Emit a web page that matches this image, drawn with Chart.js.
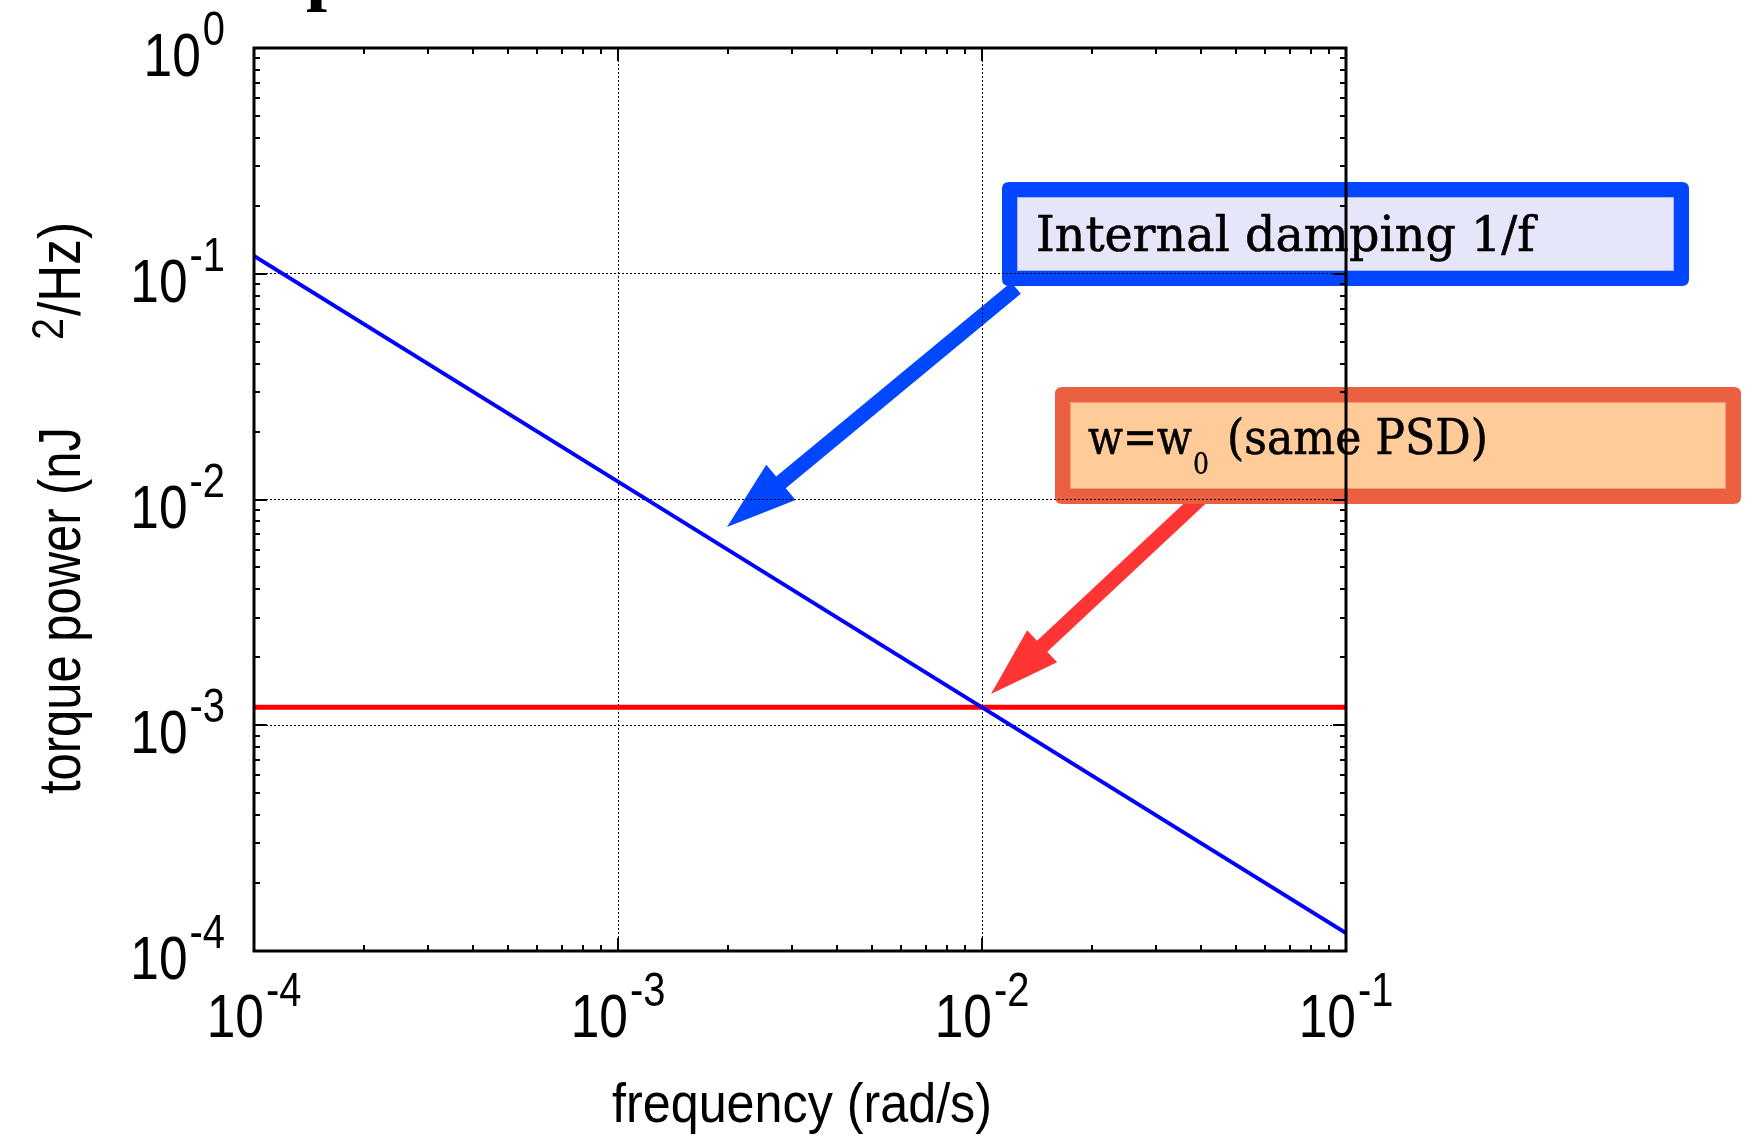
<!DOCTYPE html>
<html><head><meta charset="utf-8">
<script src="https://cdn.jsdelivr.net/npm/chart.js@4.4.1/dist/chart.umd.min.js"></script>
<style>html,body{margin:0;padding:0;background:#fff;}canvas{display:block;}</style>
</head><body>
<canvas id="c" width="1748" height="1136"></canvas>
<script>
// ---- data ----
const frequency = [1e-4, 1e-3, 1e-2, 1e-1];
const internalDampingPSD = [0.12, 0.012, 0.0012, 0.00012];
const sameW0Frequency = [1e-4, 1e-1];
const sameW0PSD = [0.0012, 0.0012];
const xTickValues = [1e-4, 1e-3, 1e-2, 1e-1];
const xTickExponents = ['-4', '-3', '-2', '-1'];
const yTickValues = [1e-4, 1e-3, 1e-2, 1e-1, 1];
const yTickExponents = ['-4', '-3', '-2', '-1', '0'];
const tickMultipliers = [1, 2, 3, 4, 5, 6, 7, 8, 9];
const xAxisTitle = 'frequency (rad/s)';
const yAxisTitleMain = 'torque power (nJ';
const yAxisTitleSup = '2';
const yAxisTitleEnd = '/Hz)';
const blueNote = 'Internal damping 1/f';
const redNoteA = 'w=w';
const redNoteSub = '0';
const redNoteB = '(same PSD)';
const titleFragment = 'p';

// ---- helpers ----
const SANS = '"Liberation Sans", Arial, sans-serif';
const SERIF = '"DejaVu Serif", serif';
function isDecade(v) { const l = Math.log10(v); return Math.abs(l - Math.round(l)) < 1e-9; }
function decadeTicks(minExp, maxExp) {
  const out = [];
  for (let e = minExp; e < maxExp; e++) for (const m of tickMultipliers) out.push({ value: m * Math.pow(10, e) });
  out.push({ value: Math.pow(10, maxExp) });
  return out;
}
function txt(ctx, s, x, y, font, opt = {}) {
  ctx.save();
  ctx.font = font;
  const w = ctx.measureText(s).width;
  let sx = opt.sx || 1;
  if (opt.width) sx = opt.width / w;
  ctx.translate(x, y);
  if (opt.rot) ctx.rotate(opt.rot);
  ctx.scale(sx, 1);
  let dx = 0;
  if (opt.align === 'center') dx = -w / 2; else if (opt.align === 'right') dx = -w;
  ctx.fillStyle = opt.color || '#000';
  ctx.textAlign = 'left'; ctx.textBaseline = 'alphabetic';
  ctx.fillText(s, dx, 0);
  if (opt.bold) { ctx.strokeStyle = opt.color || '#000'; ctx.lineWidth = opt.bold; ctx.strokeText(s, dx, 0); }
  ctx.restore();
  return w * sx;
}
function measure(ctx, s, font, sx) { ctx.save(); ctx.font = font; const w = ctx.measureText(s).width; ctx.restore(); return w * sx; }
function drawArrow(ctx, tail, tip, headLen, headHalf, shaftW, color) {
  const dx = tip[0] - tail[0], dy = tip[1] - tail[1];
  const len = Math.hypot(dx, dy), ux = dx / len, uy = dy / len, nx = -uy, ny = ux;
  const bx = tip[0] - ux * headLen, by = tip[1] - uy * headLen;
  ctx.fillStyle = color;
  ctx.beginPath();
  ctx.moveTo(tail[0] + nx * shaftW / 2, tail[1] + ny * shaftW / 2);
  ctx.lineTo(bx + nx * shaftW / 2, by + ny * shaftW / 2);
  ctx.lineTo(bx + nx * headHalf, by + ny * headHalf);
  ctx.lineTo(tip[0], tip[1]);
  ctx.lineTo(bx - nx * headHalf, by - ny * headHalf);
  ctx.lineTo(bx - nx * shaftW / 2, by - ny * shaftW / 2);
  ctx.lineTo(tail[0] - nx * shaftW / 2, tail[1] - ny * shaftW / 2);
  ctx.closePath();
  ctx.fill();
}
function roundRect(ctx, x, y, w, h, r) {
  ctx.beginPath();
  ctx.moveTo(x + r, y); ctx.lineTo(x + w - r, y); ctx.quadraticCurveTo(x + w, y, x + w, y + r);
  ctx.lineTo(x + w, y + h - r); ctx.quadraticCurveTo(x + w, y + h, x + w - r, y + h);
  ctx.lineTo(x + r, y + h); ctx.quadraticCurveTo(x, y + h, x, y + h - r);
  ctx.lineTo(x, y + r); ctx.quadraticCurveTo(x, y, x + r, y);
  ctx.closePath();
}
function drawBox(ctx, b) {
  ctx.fillStyle = b.border; roundRect(ctx, b.x, b.y, b.w, b.h, 7); ctx.fill();
  ctx.fillStyle = b.fill; ctx.fillRect(b.x + b.bw, b.y + b.bw, b.w - 2 * b.bw, b.h - 2 * b.bw);
  ctx.strokeStyle = b.edge; ctx.lineWidth = 1;
  ctx.strokeRect(b.x + b.bw + 0.5, b.y + b.bw + 0.5, b.w - 2 * b.bw - 1, b.h - 2 * b.bw - 1);
}

// ---- layout (annotation geometry, pixels) ----
const BLUE = '#0047FF', RED_ARROW = '#FF3535', ORANGE = '#EA6040';
const blueBox = { x: 1002, y: 182, w: 687, h: 104, bw: 15, border: BLUE, fill: '#E6E6FA', edge: '#A8B4FF' };
const redBox = { x: 1055, y: 387, w: 686, h: 117, bw: 15, border: ORANGE, fill: '#FFCC99', edge: '#F49A70' };

const decor = {
  id: 'decor',
  beforeDraw(chart) {
    const ctx = chart.ctx;
    ctx.save();
    ctx.fillStyle = '#fff'; ctx.fillRect(0, 0, chart.width, chart.height);
    txt(ctx, titleFragment, 306, -4, 'bold 76px "Liberation Serif", serif');
    drawArrow(ctx, [1016, 288], [727, 527], 70, 23, 15, BLUE);
    drawArrow(ctx, [1205, 494], [991, 694], 70, 22, 15, RED_ARROW);
    drawBox(ctx, blueBox);
    drawBox(ctx, redBox);
    const f = '49px ' + SERIF;
    txt(ctx, blueNote, 1036, 251, f, { width: 499, bold: 0.6 });
    txt(ctx, redNoteA, 1088, 454, f, { width: 104, bold: 0.6 });
    txt(ctx, redNoteSub, 1193, 474, '30px ' + SERIF, { width: 16, bold: 0.4 });
    txt(ctx, redNoteB, 1227, 454, f, { width: 261, bold: 0.6 });
    ctx.restore();
  },
  afterDraw(chart) {
    const ctx = chart.ctx, a = chart.chartArea, xs = chart.scales.x, ys = chart.scales.y;
    ctx.save();
    ctx.strokeStyle = '#000'; ctx.lineCap = 'butt';
    // tick marks (inward, all four sides)
    ctx.lineWidth = 2;
    ctx.beginPath();
    xs.ticks.forEach(t => {
      const px = Math.round(xs.getPixelForValue(t.value));
      if (px <= a.left + 1 || px >= a.right - 1) return;
      const L = isDecade(t.value) ? 13 : 6;
      ctx.moveTo(px, a.bottom); ctx.lineTo(px, a.bottom - L);
      ctx.moveTo(px, a.top); ctx.lineTo(px, a.top + L);
    });
    ys.ticks.forEach(t => {
      const py = Math.round(ys.getPixelForValue(t.value));
      if (py <= a.top + 1 || py >= a.bottom - 1) return;
      const L = isDecade(t.value) ? 13 : 6;
      ctx.moveTo(a.left, py); ctx.lineTo(a.left + L, py);
      ctx.moveTo(a.right, py); ctx.lineTo(a.right - L, py);
    });
    ctx.stroke();
    // frame
    ctx.lineWidth = 3;
    ctx.strokeRect(a.left, a.top, a.right - a.left, a.bottom - a.top);

    // tick labels
    const mainF = '62px ' + SANS, supF = '48px ' + SANS, SX = 0.83, GAP = 2;
    xTickValues.forEach((v, i) => {
      const px = xs.getPixelForValue(v);
      const w1 = measure(ctx, '10', mainF, SX), w2 = measure(ctx, xTickExponents[i], supF, SX);
      const x0 = px - (w1 + GAP + w2) / 2;
      const base = a.bottom + 86;
      txt(ctx, '10', x0, base, mainF, { sx: SX });
      txt(ctx, xTickExponents[i], x0 + w1 + GAP, base - 31, supF, { sx: SX });
    });
    yTickValues.forEach((v, i) => {
      const py = ys.getPixelForValue(v);
      const w1 = measure(ctx, '10', mainF, SX), w2 = measure(ctx, yTickExponents[i], supF, SX);
      const xr = a.left - 29;
      const x0 = xr - (w1 + GAP + w2);
      txt(ctx, '10', x0, py + 28, mainF, { sx: SX });
      txt(ctx, yTickExponents[i], x0 + w1 + GAP, py - 3, supF, { sx: SX });
    });

    // axis titles
    txt(ctx, xAxisTitle, (a.left + a.right) / 2 + 2, 1122, '55px ' + SANS, { align: 'center', width: 380 });
    const R = -Math.PI / 2;
    txt(ctx, yAxisTitleMain, 80, 794, '59px ' + SANS, { rot: R, width: 367 });
    txt(ctx, yAxisTitleSup, 63, 340, '44px ' + SANS, { rot: R, width: 22 });
    txt(ctx, yAxisTitleEnd, 80, 316, '59px ' + SANS, { rot: R, width: 94 });
    ctx.restore();
  }
};

const gridColorX = c => (c.tick && isDecade(c.tick.value) && c.tick.value > xTickValues[0] && c.tick.value < xTickValues[xTickValues.length - 1]) ? '#000' : 'rgba(0,0,0,0)';
const gridColorY = c => (c.tick && isDecade(c.tick.value) && c.tick.value > yTickValues[0] && c.tick.value < yTickValues[yTickValues.length - 1]) ? '#000' : 'rgba(0,0,0,0)';

new Chart(document.getElementById('c'), {
  type: 'line',
  data: {
    datasets: [
      {
        label: 'Internal damping 1/f',
        data: frequency.map((f, i) => ({ x: f, y: internalDampingPSD[i] })),
        borderColor: '#0000FF', borderWidth: 4, pointRadius: 0, tension: 0, fill: false
      },
      {
        label: 'w=w0 (same PSD)',
        data: sameW0Frequency.map((f, i) => ({ x: f, y: sameW0PSD[i] })),
        borderColor: '#FF0000', borderWidth: 5, pointRadius: 0, tension: 0, fill: false
      }
    ]
  },
  options: {
    responsive: false,
    devicePixelRatio: 1,
    animation: false,
    layout: { padding: { left: 254, right: 402, top: 48, bottom: 185 } },
    plugins: { legend: { display: false }, tooltip: { enabled: false }, title: { display: false } },
    scales: {
      x: {
        type: 'logarithmic', min: 1e-4, max: 1e-1,
        afterBuildTicks: s => { s.ticks = decadeTicks(-4, -1); },
        ticks: { display: false },
        grid: { color: gridColorX, lineWidth: 1, drawTicks: false },
        border: { display: false, dash: [2, 2] },
        title: { display: false }
      },
      y: {
        type: 'logarithmic', min: 1e-4, max: 1,
        afterBuildTicks: s => { s.ticks = decadeTicks(-4, 0); },
        ticks: { display: false },
        grid: { color: gridColorY, lineWidth: 1, drawTicks: false },
        border: { display: false, dash: [2, 2] },
        title: { display: false }
      }
    }
  },
  plugins: [decor]
});
</script>
</body></html>
